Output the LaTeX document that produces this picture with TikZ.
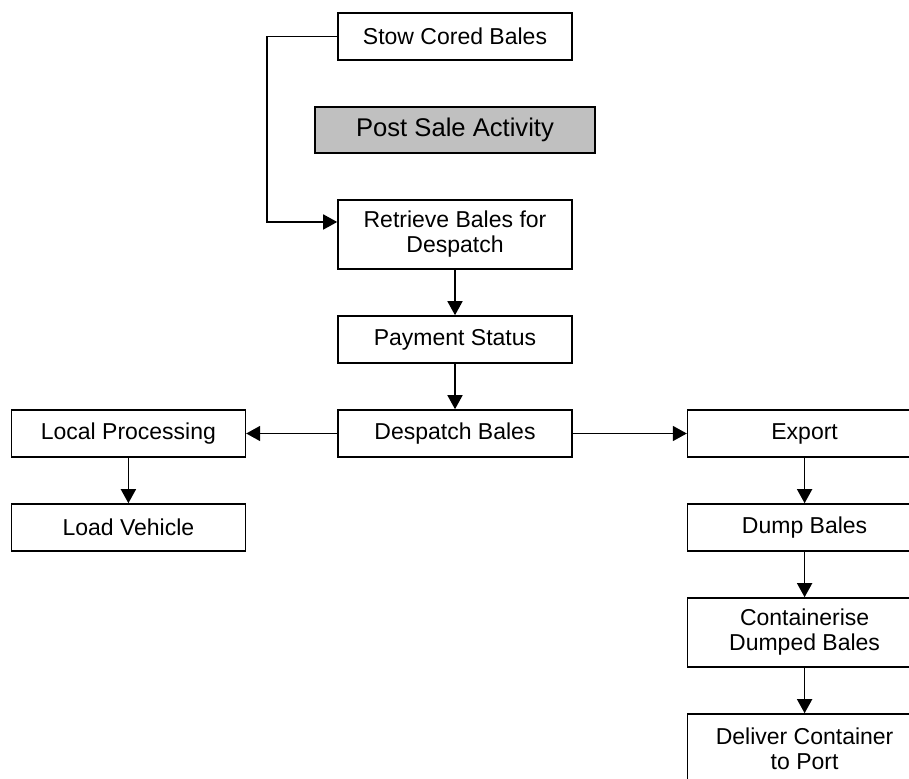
\documentclass[tikz,border=0pt]{standalone}
\usepackage{fontspec}
\setmainfont{Liberation Sans}
\usetikzlibrary{positioning,arrows.meta}
\definecolor{saleGray}{RGB}{192,192,192}
\tikzset{>={Triangle[length=7pt,width=7.5pt]}}
\tikzstyle{block} = [rectangle, draw, line width=0.8pt, text centered, align=center,
minimum height=23.5pt, minimum width=117pt, inner sep=2pt, font=\fontsize{11.5}{12.5}\selectfont]
\tikzstyle{tallBlock} = [block, minimum height=34.5pt]
\tikzstyle{grayBlock} = [block, fill=saleGray, minimum width=140pt, minimum height=23pt,
font=\fontsize{12.8}{14}\selectfont]
\tikzstyle{line} = [draw, line width=0.8pt, ->]

\begin{document}
\begin{tikzpicture}[node distance=22.7pt]

   \useasboundingbox (0,0) rectangle (454.5pt,-389.5pt);

   % Main column
   \node[block] (stowBales) at (227.5pt,-18.25pt) {Stow Cored Bales};
   \node[grayBlock] (postSale) [below = of stowBales] {Post Sale Activity};
   \node[tallBlock] (retrieveBales) [below = of postSale] {Retrieve Bales for\\Despatch};
   \node[block] (payStatus) [below = of retrieveBales] {Payment Status};
   \node[block] (despatchBales) [below = of payStatus] {Despatch Bales};

   % Local branch
   \node[block] (localProc) [left = 45.5pt of despatchBales] {Local Processing};
   \node[block] (loadVehicle) [below = of localProc] {Load Vehicle};

   % Export branch
   \node[block] (exportBales) [right = 57pt of despatchBales] {Export};
   \node[block] (dumpBales) [below = of exportBales] {Dump Bales};
   \node[tallBlock] (containerise) [below = of dumpBales] {Containerise\\Dumped Bales};
   \node[tallBlock] (deliverPort) [below = of containerise] {Deliver Container\\to Port};

   %% Lines

   \path[line] (stowBales.west) -- ++(-35pt,0) |- ([yshift=6.25pt]retrieveBales.west);
   \path[line] (retrieveBales) -- (payStatus);
   \path[line] (payStatus) -- (despatchBales);
   \path[line] (despatchBales) -- (localProc);
   \path[line] (despatchBales) -- (exportBales);
   \path[line] (localProc) -- (loadVehicle);
   \path[line] (exportBales) -- (dumpBales);
   \path[line] (dumpBales) -- (containerise);
   \path[line] (containerise) -- (deliverPort);

\end{tikzpicture}
\end{document}
